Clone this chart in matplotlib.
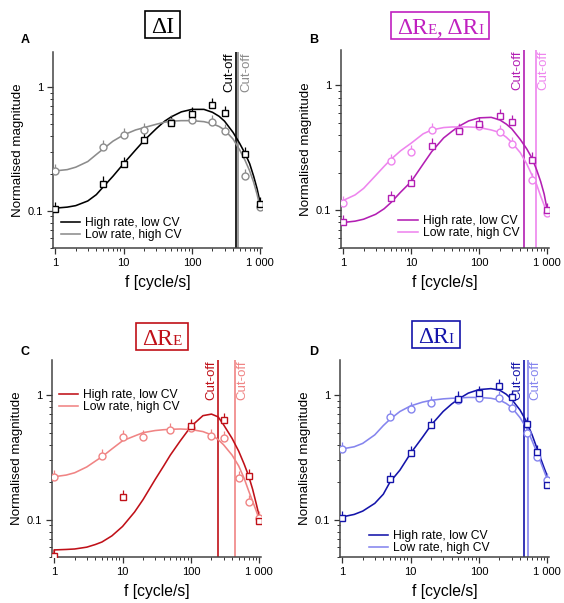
import matplotlib
matplotlib.use("Agg")
from matplotlib import pyplot as plt
from matplotlib.patches import Rectangle
from matplotlib.transforms import IdentityTransform

plt.rcParams["font.family"] = ["Liberation Sans", "DejaVu Sans"]

W, H = 564, 603

# ---- data ----
f_pts = [1, 5, 10, 20, 50, 100, 200, 300, 600, 1000]
f_fit = [1, 1.5, 2, 3, 4, 5, 7, 10, 15, 20, 30, 40, 50, 70, 100, 150, 200, 250, 300, 400, 500,
         600, 700, 800, 900, 1000]

# A: Delta I
A_high = [0.103, 0.166, 0.238, 0.374, 0.51, 0.605, 0.716, 0.62, 0.288, 0.114]
A_low = [0.21, 0.33, 0.41, 0.45, 0.52, 0.54, 0.52, 0.44, 0.19, 0.108]
A_high_fit = [0.105, 0.107, 0.11, 0.12, 0.135, 0.155, 0.19, 0.24, 0.31, 0.37, 0.46, 0.53, 0.575,
              0.63, 0.66, 0.66, 0.625, 0.58, 0.53, 0.43, 0.35, 0.29, 0.24, 0.19, 0.15, 0.115]
A_low_fit = [0.21, 0.215, 0.225, 0.25, 0.285, 0.315, 0.365, 0.41, 0.45, 0.47, 0.5, 0.52, 0.53,
             0.535, 0.535, 0.525, 0.505, 0.48, 0.45, 0.38, 0.31, 0.255, 0.21, 0.17, 0.135, 0.105]
A_cut = [440, 480]

# B: Delta R_E, Delta R_I
B_high = [0.08, 0.126, 0.167, 0.33, 0.43, 0.49, 0.57, 0.51, 0.255, 0.1]
B_low = [0.115, 0.248, 0.295, 0.44, 0.44, 0.47, 0.42, 0.34, 0.175, 0.095]
B_high_fit = [0.08, 0.082, 0.085, 0.093, 0.103, 0.115, 0.14, 0.17, 0.235, 0.295, 0.38, 0.43, 0.47,
              0.52, 0.55, 0.555, 0.53, 0.49, 0.45, 0.37, 0.31, 0.26, 0.21, 0.17, 0.135, 0.1]
B_low_fit = [0.12, 0.133, 0.15, 0.19, 0.225, 0.255, 0.3, 0.345, 0.41, 0.44, 0.46, 0.465, 0.465,
             0.465, 0.46, 0.44, 0.42, 0.385, 0.35, 0.29, 0.235, 0.19, 0.16, 0.13, 0.11, 0.09]
B_cut = [462, 676]

# C: Delta R_E
fC_high = [1, 10, 100, 300, 700, 1000]
C_high = [0.051, 0.152, 0.566, 0.63, 0.224, 0.097]
fC_low = [1, 5, 10, 20, 50, 100, 200, 300, 500, 700, 1000]
C_low = [0.221, 0.324, 0.464, 0.464, 0.525, 0.55, 0.47, 0.456, 0.217, 0.138, 0.103]
fC_high_fit = [1] + f_fit
C_high_fit = [0.051, 0.057, 0.0575, 0.058, 0.06, 0.063, 0.066, 0.074, 0.088, 0.115, 0.145, 0.21,
              0.27, 0.33, 0.43, 0.56, 0.685, 0.705, 0.67, 0.58, 0.45, 0.355, 0.28, 0.224, 0.175,
              0.135, 0.106]
C_low_fit = [0.221, 0.228, 0.238, 0.265, 0.295, 0.32, 0.37, 0.43, 0.47, 0.5, 0.52, 0.528, 0.532,
             0.535, 0.53, 0.51, 0.48, 0.44, 0.40, 0.33, 0.27, 0.215, 0.17, 0.14, 0.118, 0.1]
C_cut = [251, 447]

# D: Delta R_I
fD = [1, 5, 10, 20, 50, 100, 200, 300, 500, 700, 1000]
D_high = [0.103, 0.211, 0.341, 0.578, 0.94, 1.045, 1.19, 0.97, 0.59, 0.35, 0.19]
D_low = [0.37, 0.668, 0.78, 0.867, 0.91, 0.957, 0.957, 0.79, 0.5, 0.32, 0.207]
D_high_fit = [0.105, 0.11, 0.117, 0.135, 0.16, 0.2, 0.25, 0.34, 0.46, 0.575, 0.74, 0.85, 0.93,
              1.04, 1.11, 1.13, 1.1, 1.02, 0.93, 0.76, 0.61, 0.48, 0.38, 0.31, 0.26, 0.224]
D_low_fit = [0.37, 0.385, 0.41, 0.48, 0.57, 0.64, 0.74, 0.82, 0.88, 0.91, 0.935, 0.945, 0.95,
             0.96, 0.96, 0.945, 0.915, 0.86, 0.8, 0.66, 0.54, 0.43, 0.35, 0.29, 0.245, 0.21]
D_cut = [455, 515]

x_ticks = [1, 10, 100, 1000]
x_ticklabels = ["1", "10", "100", "1 000"]
y_ticks = [0.1, 1]
y_ticklabels = ["0.1", "1"]
labels = ["High rate, low CV", "Low rate, high CV"]
err_frac = 0.14

fig = plt.figure(figsize=(W / 100, H / 100), dpi=100)


def px_axes(left, top, right, bottom):
    return fig.add_axes([left / W, 1 - bottom / H, (right - left) / W, (bottom - top) / H])


def panel(ax, hi, lo, cuts, dark, light, leg_loc, leg_anchor):
    # hi / lo: (f_pts, vals, f_fit, fit)
    ax.set_xscale("log")
    ax.set_yscale("log")
    l1, = ax.plot(hi[2], hi[3], color=dark, lw=1.15, zorder=2)
    l2, = ax.plot(lo[2], lo[3], color=light, lw=1.15, zorder=2)
    for (fx, v, _, _), c, m, ms in [(lo, light, "o", 5.0), (hi, dark, "s", 4.2)]:
        ax.errorbar(fx, v, yerr=[[0] * len(v), [err_frac * y for y in v]], fmt="none",
                    ecolor=c, elinewidth=0.9, capsize=0, zorder=3)
        ax.plot(fx, v, ls="none", marker=m, ms=ms, mfc="white", mec=c, mew=1.0, zorder=4)
    ax.axvline(cuts[0], color=dark, lw=1.2, zorder=1)
    ax.axvline(cuts[1], color=light, lw=1.2, zorder=1)
    tr = ax.get_xaxis_transform()
    ax.text(cuts[0] * 0.97, 1.0, "Cut-off", rotation=90, ha="right", va="top", transform=tr,
            color=dark, fontsize=9.5)
    ax.text(cuts[1] * 1.05, 1.0, "Cut-off", rotation=90, ha="left", va="top", transform=tr,
            color=light, fontsize=9.5)

    ax.set_xlim(0.93, 1060)
    ax.set_ylim(0.05, 1.92)
    ax.set_xticks(x_ticks)
    ax.set_xticklabels(x_ticklabels)
    ax.set_yticks(y_ticks)
    ax.set_yticklabels(y_ticklabels)
    ax.tick_params(which="major", length=4, width=0.9, labelsize=8, colors="#333333",
                   labelcolor="black", pad=3)
    ax.tick_params(which="minor", length=2, width=0.7, colors="#333333")
    for s in ["top", "right"]:
        ax.spines[s].set_visible(False)
    for s in ["left", "bottom"]:
        ax.spines[s].set_color("#444444")
        ax.spines[s].set_linewidth(1.1)
    ax.set_xlabel("f [cycle/s]", fontsize=11.3, labelpad=5)
    ax.set_ylabel("Normalised magnitude", fontsize=9.6, labelpad=3)
    ax.legend([l1, l2], labels, loc=leg_loc, bbox_to_anchor=leg_anchor, frameon=False,
              fontsize=8.7, handlelength=1.6, handletextpad=0.4, labelspacing=0.0,
              borderaxespad=0.0)
    return ax


axA = px_axes(53, 52, 262, 248)
panel(axA, (f_pts, A_high, f_fit, A_high_fit), (f_pts, A_low, f_fit, A_low_fit), A_cut,
      "#000000", "#8c8c8c", "lower left", (0.015, 0.01))
axB = px_axes(341, 50, 549, 248)
panel(axB, (f_pts, B_high, f_fit, B_high_fit), (f_pts, B_low, f_fit, B_low_fit), B_cut,
      "#b31fb3", "#ee85ee", "lower right", (0.88, 0.02))
axC = px_axes(52, 360, 261, 557)
panel(axC, (fC_high, C_high, fC_high_fit, C_high_fit), (fC_low, C_low, f_fit, C_low_fit), C_cut,
      "#c01018", "#f08484", "upper left", (0.01, 0.875))
axD = px_axes(340, 360, 549, 557)
panel(axD, (fD, D_high, f_fit, D_high_fit), (fD, D_low, f_fit, D_low_fit), D_cut,
      "#1414aa", "#8585ee", "lower left", (0.115, -0.01))

# panel letters
for letter, x, y in [("A", 25, 40), ("B", 314, 40), ("C", 25, 352), ("D", 314, 352)]:
    fig.text(x / W, 1 - y / H, letter, fontsize=9, fontweight="bold", ha="center", va="center")

# boxed titles with small-cap style subscripts
renderer = fig.canvas.get_renderer()
big, small = 17, 11


def boxed_title(xc, baseline, pieces, color):
    texts = []
    total = 0
    for s, size in pieces:
        t = fig.text(0, 0, s, fontsize=size, family="Liberation Serif", color=color,
                     va="baseline", ha="left", transform=IdentityTransform())
        w = t.get_window_extent(renderer).width
        texts.append((t, w))
        total += w
    x = xc - total / 2
    yb = H - baseline
    for t, w in texts:
        t.set_position((x, yb))
        x += w
    cap = big * 100 / 72 * 0.66
    fig.patches.append(Rectangle((xc - total / 2 - 6, yb - 5), total + 12, cap + 11,
                                 transform=IdentityTransform(), fill=False, ec=color, lw=1.2))


boxed_title(162.5, 33, [("\u0394I", big)], "black")
boxed_title(440, 34, [("\u0394R", big), ("E", small), (", \u0394R", big), ("I", small)], "#c020c0")
boxed_title(162, 345, [("\u0394R", big), ("E", small)], "#c01018")
boxed_title(436, 343, [("\u0394R", big), ("I", small)], "#1414aa")

fig.savefig("out.png", dpi=100)
